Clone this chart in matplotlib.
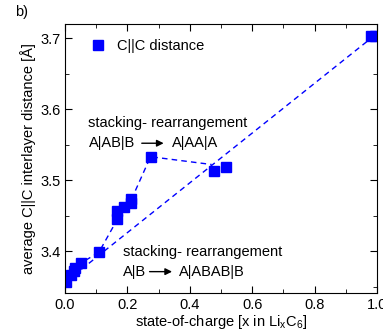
import matplotlib
matplotlib.use("Agg")
import matplotlib.pyplot as plt
from matplotlib.ticker import MultipleLocator

plt.rcParams['font.family'] = ['Liberation Sans', 'DejaVu Sans']
plt.rcParams['mathtext.fontset'] = 'custom'
plt.rcParams['mathtext.rm'] = 'Liberation Sans'
plt.rcParams['mathtext.it'] = 'Liberation Sans'

# measured C||C distance vs state of charge
soc = [0.003, 0.020, 0.027, 0.033, 0.050, 0.108, 0.168, 0.168, 0.190,
       0.212, 0.212, 0.274, 0.476, 0.516, 0.980, 0.995]
dist = [3.357, 3.366, 3.372, 3.376, 3.383, 3.398, 3.445, 3.457, 3.462,
        3.468, 3.474, 3.533, 3.513, 3.519, 3.703, 3.703]

# guide lines (dashed)
guide1_x = [0.003, 0.050, 0.108, 0.168, 0.212, 0.274, 0.470]
guide1_y = [3.357, 3.383, 3.398, 3.445, 3.472, 3.533, 3.522]
guide2_x = [0.003, 0.990]
guide2_y = [3.357, 3.703]

blue = '#0000ff'

fig = plt.figure(figsize=(3.83, 3.34), dpi=100)
ax = fig.add_axes([0.170, 0.123, 0.814, 0.805])

ax.plot(guide1_x, guide1_y, ls=(0, (4, 3)), color=blue, lw=1.0)
ax.plot(guide2_x, guide2_y, ls=(0, (4, 3)), color=blue, lw=1.0)
ax.plot(soc, dist, 's', color=blue, ms=6.8, label='C||C distance')

ax.set_xlim(0.0, 1.0)
ax.set_ylim(3.341, 3.720)
ax.xaxis.set_major_locator(MultipleLocator(0.2))
ax.xaxis.set_minor_locator(MultipleLocator(0.1))
ax.yaxis.set_major_locator(MultipleLocator(0.1))
ax.yaxis.set_minor_locator(MultipleLocator(0.05))
ax.tick_params(which='both', direction='in', top=True, right=True, labelsize=10.5)
ax.tick_params(which='major', length=5)
ax.tick_params(which='minor', length=3)
ax.set_xticklabels([f'{v:.1f}' for v in ax.get_xticks()])

ax.set_xlabel('state-of-charge [x in Li$_x$C$_6$]', fontsize=10.5, labelpad=1)
ax.set_ylabel('average C||C interlayer distance [Å]', fontsize=10.5, labelpad=3)

ax.legend(loc='upper left', frameon=False, fontsize=10.5, handletextpad=0.3,
          borderaxespad=0.6, numpoints=1, bbox_to_anchor=(0.012, 0.997))

fs = 10.5
ax.text(0.075, 3.580, 'stacking- rearrangement', fontsize=fs, va='center')
ax.text(0.075, 3.552, 'A|AB|B', fontsize=fs, va='center')
ax.annotate('', xy=(0.325, 3.552), xytext=(0.237, 3.552),
            arrowprops=dict(arrowstyle='-|>', color='black', lw=1.0, mutation_scale=10))
ax.text(0.342, 3.552, 'A|AA|A', fontsize=fs, va='center')

ax.text(0.186, 3.399, 'stacking- rearrangement', fontsize=fs, va='center')
ax.text(0.186, 3.371, 'A|B', fontsize=fs, va='center')
ax.annotate('', xy=(0.352, 3.371), xytext=(0.262, 3.371),
            arrowprops=dict(arrowstyle='-|>', color='black', lw=1.0, mutation_scale=10))
ax.text(0.365, 3.371, 'A|ABAB|B', fontsize=fs, va='center')

fig.text(0.04, 0.965, 'b)', fontsize=10.5, va='center')

fig.savefig('out.png', dpi=100)
